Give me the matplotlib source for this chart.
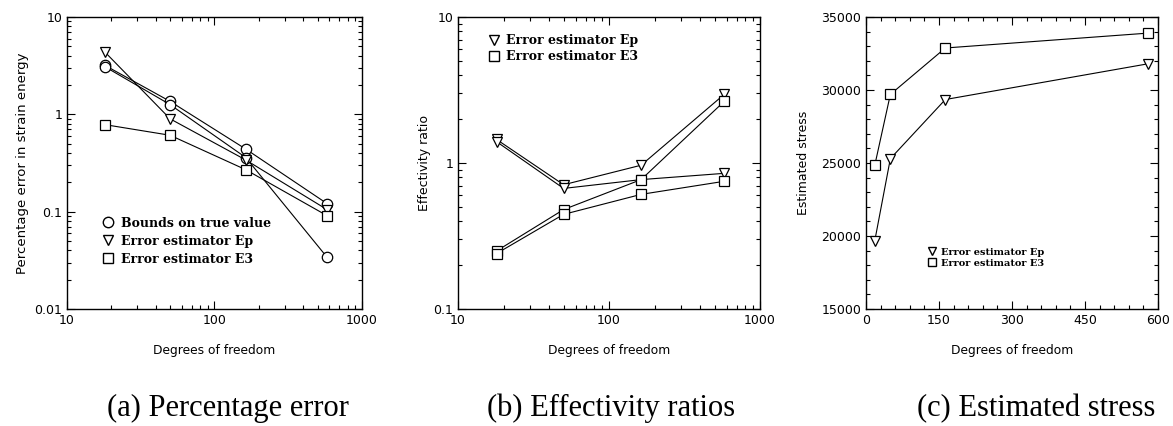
import matplotlib
matplotlib.use("Agg")
import matplotlib.pyplot as plt
from matplotlib.lines import Line2D
from matplotlib.ticker import FuncFormatter, NullFormatter, MultipleLocator

# degrees of freedom
dof = [18, 50, 163, 580]

# (a) percentage error in strain energy
bound_hi = [3.2, 1.36, 0.44, 0.121]
bound_lo = [3.1, 1.26, 0.36, 0.034]
err_ep = [4.4, 0.90, 0.34, 0.105]
err_e3 = [0.785, 0.61, 0.27, 0.091]

# (b) effectivity ratios
eff_ep1 = [1.45, 0.71, 0.966, 2.96]
eff_ep2 = [1.40, 0.67, 0.77, 0.85]
eff_e31 = [0.25, 0.48, 0.77, 2.65]
eff_e32 = [0.24, 0.445, 0.61, 0.75]

# (c) estimated stress
stress_ep = [19680, 25300, 29350, 31800]
stress_e3 = [24850, 29700, 32880, 33900]

captions = ["(a) Percentage error", "(b) Effectivity ratios", "(c) Estimated stress"]

leg_font = {"family": "DejaVu Serif", "weight": "bold", "size": 9}

fig = plt.figure(figsize=(11.73, 4.26), dpi=100)
axa = fig.add_axes([0.0571, 0.2746, 0.2515, 0.6854])
axb = fig.add_axes([0.3905, 0.2746, 0.2575, 0.6854])
axc = fig.add_axes([0.7383, 0.2746, 0.2489, 0.6854])

mk = dict(color="k", lw=0.8, mfc="white", mec="k", mew=0.9, ms=7.5)


def style(ax):
    ax.tick_params(which="both", direction="in", top=True, right=True, width=0.8)
    ax.tick_params(which="major", length=6, labelsize=9)
    ax.tick_params(which="minor", length=3)
    for s in ax.spines.values():
        s.set_linewidth(1.0)
    for t in ax.get_xticklabels() + ax.get_yticklabels():
        t.set_family("DejaVu Sans")
    ax.set_xlabel("Degrees of freedom", family="DejaVu Sans", size=8.8, labelpad=12)


fmt = FuncFormatter(lambda v, p: "%g" % v)

# panel a
axa.plot(dof, bound_hi, marker="o", **mk)
axa.plot(dof, bound_lo, marker="o", **mk)
axa.plot(dof, err_ep, marker="v", **mk)
axa.plot(dof, err_e3, marker="s", **mk)
axa.set_xscale("log")
axa.set_yscale("log")
axa.set_xlim(10, 1000)
axa.set_ylim(0.01, 10)
axa.set_ylabel("Percentage error in strain energy", family="DejaVu Sans", size=9.5, labelpad=4)
h = [Line2D([], [], ls="none", marker=m, mfc="white", mec="k", ms=7.5) for m in ["o", "v", "s"]]
axa.legend(h, ["Bounds on true value", "Error estimator Ep", "Error estimator E3"],
           loc="upper left", bbox_to_anchor=(0.08, 0.355), frameon=False, prop=leg_font,
           handlelength=1.0, handletextpad=0.5, labelspacing=0.4)

# panel b
axb.plot(dof, eff_ep1, marker="v", **mk)
axb.plot(dof, eff_ep2, marker="v", **mk)
axb.plot(dof, eff_e31, marker="s", **mk)
axb.plot(dof, eff_e32, marker="s", **mk)
axb.set_xscale("log")
axb.set_yscale("log")
axb.set_xlim(10, 1000)
axb.set_ylim(0.1, 10)
axb.set_ylabel("Effectivity ratio", family="DejaVu Sans", size=9, labelpad=2)
h = [Line2D([], [], ls="none", marker=m, mfc="white", mec="k", ms=7.5) for m in ["v", "s"]]
axb.legend(h, ["Error estimator Ep", "Error estimator E3"],
           loc="upper left", bbox_to_anchor=(0.06, 0.98), frameon=False, prop=leg_font,
           handlelength=1.0, handletextpad=0.5, labelspacing=0.25)

for ax in (axa, axb):
    ax.xaxis.set_major_formatter(fmt)
    ax.yaxis.set_major_formatter(fmt)
    ax.xaxis.set_minor_formatter(NullFormatter())
    ax.yaxis.set_minor_formatter(NullFormatter())

# panel c
axc.plot(dof, stress_ep, marker="v", **mk)
axc.plot(dof, stress_e3, marker="s", **mk)
axc.set_xlim(0, 600)
axc.set_ylim(15000, 35000)
axc.xaxis.set_major_locator(MultipleLocator(150))
axc.xaxis.set_minor_locator(MultipleLocator(30))
axc.yaxis.set_major_locator(MultipleLocator(5000))
axc.yaxis.set_minor_locator(MultipleLocator(1000))
axc.set_ylabel("Estimated stress", family="DejaVu Sans", size=9, labelpad=8)
h = [Line2D([], [], ls="none", marker=m, mfc="white", mec="k", ms=6) for m in ["v", "s"]]
axc.legend(h, ["Error estimator Ep", "Error estimator E3"],
           loc="upper left", bbox_to_anchor=(0.18, 0.24), frameon=False,
           prop={"family": "DejaVu Serif", "weight": "bold", "size": 7},
           handlelength=1.0, handletextpad=0.4, labelspacing=0.2)

for ax in (axa, axb, axc):
    style(ax)

# sub-captions (figure coords, slightly off-centre as in the original)
for xc, cap in zip([0.194, 0.521, 0.883], captions):
    fig.text(xc, 0.042, cap, ha="center", va="center",
             family="Liberation Serif", fontsize=22)

fig.savefig("out.png", dpi=100)
